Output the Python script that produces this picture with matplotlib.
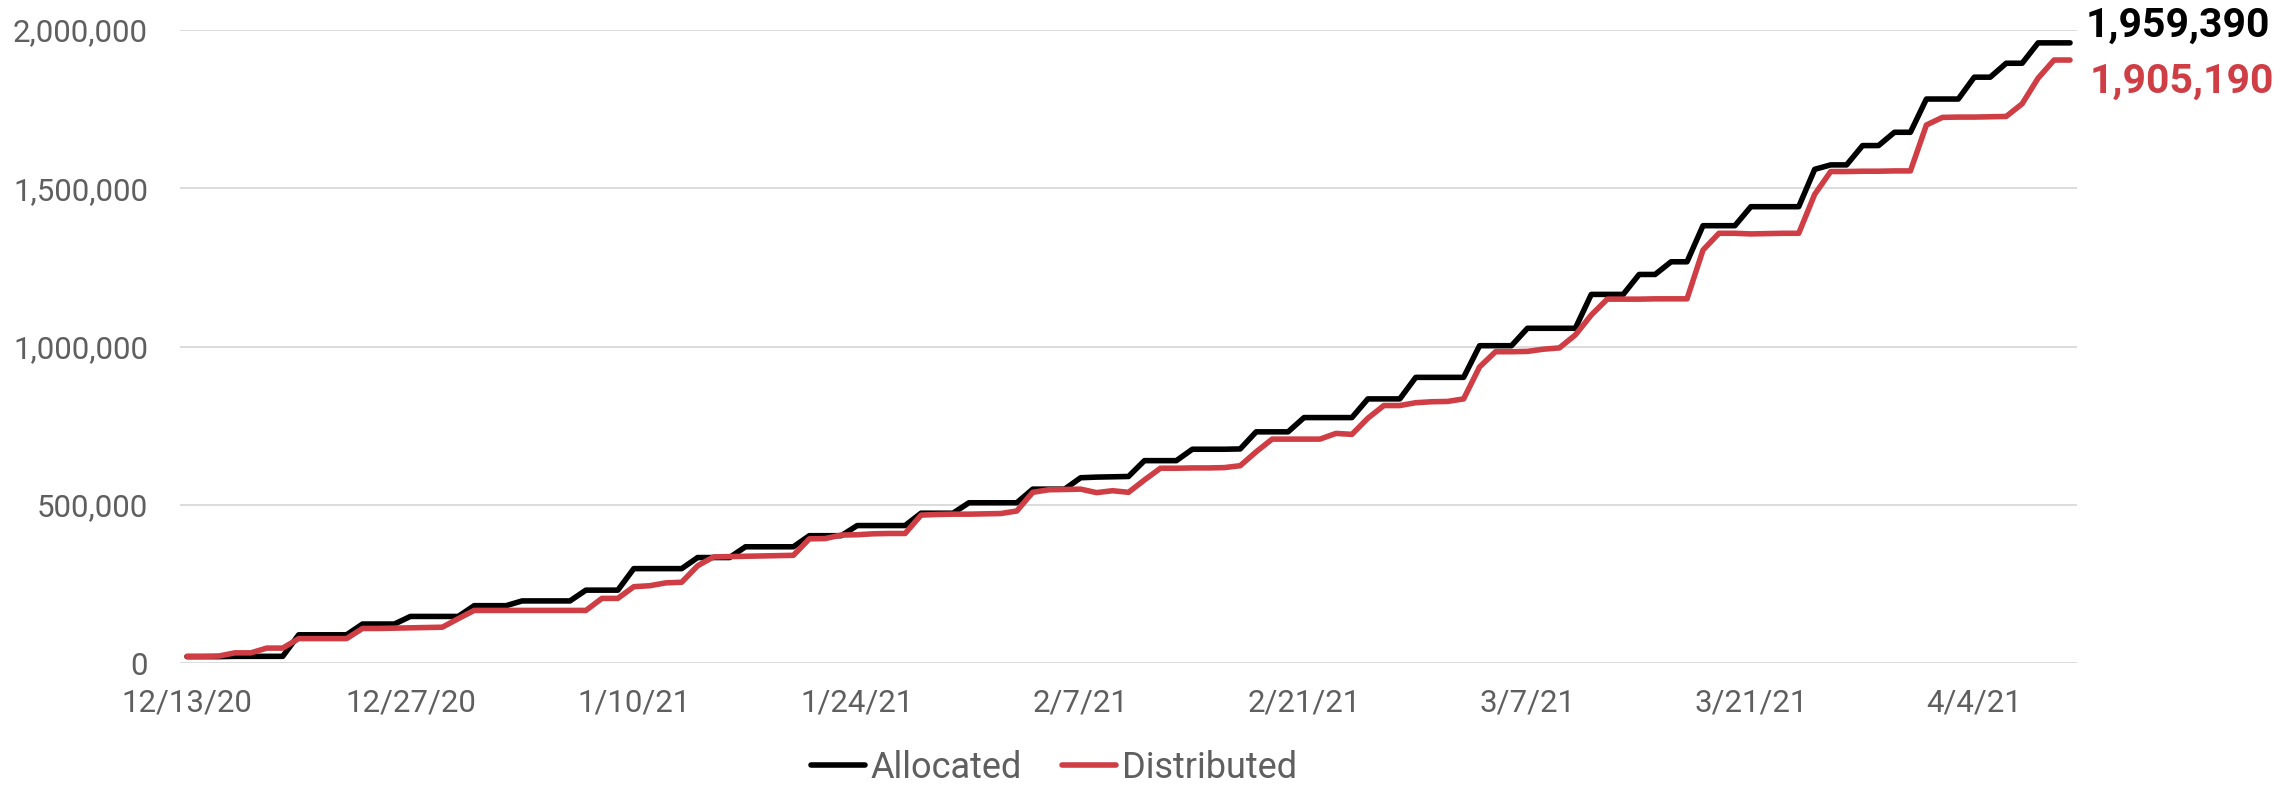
import matplotlib.pyplot as plt
import pandas as pd

# daily series, 12/13/20 -> 4/10/21
dates = pd.date_range("2020-12-13", "2021-04-10", freq="D")

allocated = [
    21000, 21000, 21000, 22000, 22000, 22000, 22000, 90000, 90000, 90000,
    90000, 124000, 124000, 124000, 148000, 148000, 148000, 148000, 182000, 182000,
    182000, 197000, 197000, 197000, 197000, 231000, 231000, 231000, 299000, 299000,
    299000, 299000, 334000, 334000, 334000, 368000, 368000, 368000, 368000, 403000,
    403000, 403000, 435000, 435000, 435000, 435000, 474000, 474000, 474000, 507000,
    507000, 507000, 507000, 550000, 550000, 550000, 586000, 588000, 589000, 590000,
    640000, 640000, 640000, 676000, 676000, 676000, 677000, 731000, 731000, 731000,
    776000, 776000, 776000, 776000, 835000, 835000, 835000, 903000, 903000, 903000,
    903000, 1003000, 1003000, 1003000, 1058000, 1058000, 1058000, 1058000, 1165000, 1165000,
    1165000, 1228000, 1228000, 1268000, 1268000, 1382000, 1382000, 1382000, 1442000, 1442000,
    1442000, 1442000, 1560000, 1574000, 1574000, 1635000, 1635000, 1677000, 1677000, 1782000,
    1782000, 1782000, 1851000, 1851000, 1895000, 1895000, 1959390, 1959390, 1959390,
]

distributed = [
    22000, 22000, 23000, 33000, 33000, 48000, 48000, 78000, 78000, 78000,
    78000, 110000, 110000, 111000, 112000, 113000, 114000, 141000, 167000, 167000,
    167000, 167000, 167000, 167000, 167000, 167000, 205000, 205000, 242000, 245000,
    254000, 256000, 308000, 336000, 337000, 338000, 339000, 340000, 341000, 393000,
    394000, 405000, 406000, 409000, 410000, 410000, 468000, 470000, 471000, 471000,
    472000, 473000, 481000, 540000, 548000, 549000, 550000, 539000, 545000, 540000,
    579000, 616000, 616000, 617000, 617000, 618000, 624000, 668000, 708000, 708000,
    708000, 708000, 726000, 723000, 774000, 814000, 814000, 823000, 826000, 827000,
    835000, 936000, 984000, 984000, 985000, 992000, 996000, 1037000, 1100000, 1150000,
    1150000, 1150000, 1151000, 1151000, 1151000, 1305000, 1358000, 1358000, 1356000, 1357000,
    1358000, 1358000, 1481000, 1553000, 1553000, 1554000, 1554000, 1555000, 1555000, 1700000,
    1724000, 1725000, 1725000, 1726000, 1727000, 1767000, 1848000, 1905190, 1905190,
]

tick_dates = ["2020-12-13", "2020-12-27", "2021-01-10", "2021-01-24", "2021-02-07",
              "2021-02-21", "2021-03-07", "2021-03-21", "2021-04-04"]
tick_labels = ["12/13/20", "12/27/20", "1/10/21", "1/24/21", "2/7/21",
               "2/21/21", "3/7/21", "3/21/21", "4/4/21"]
y_ticks = [0, 500000, 1000000, 1500000, 2000000]

black = "#000000"
red = "#cf3e45"
grey = "#5f5f5f"

plt.rcParams["font.family"] = ["Roboto", "DejaVu Sans"]

W, H = 2296, 786
fig = plt.figure(figsize=(W / 100, H / 100), dpi=100)
ax = fig.add_axes([180 / W, 1 - 663.3 / H, 1897 / W, (663.3 - 30) / H])

ax.plot(dates, allocated, color=black, lw=4, label="Allocated",
        solid_capstyle="round", solid_joinstyle="round", zorder=3)
ax.plot(dates, distributed, color=red, lw=4, label="Distributed",
        solid_capstyle="round", solid_joinstyle="round", zorder=4)

pad = pd.Timedelta(hours=10.5)
ax.set_xlim(dates[0] - pad, dates[-1] + pad)
ax.set_ylim(0, 2000000)

ax.set_xticks(pd.to_datetime(tick_dates))
ax.set_xticklabels(tick_labels)
ax.set_yticks(y_ticks)
ax.set_yticklabels([f"{v:,}" for v in y_ticks])
ax.tick_params(axis="both", length=0, labelsize=22.5, labelcolor=grey)
ax.tick_params(axis="y", pad=23)
ax.tick_params(axis="x", pad=18)

ax.yaxis.grid(True, color="#d9d9d9", lw=1.3)
ax.set_axisbelow(True)
for s in ax.spines.values():
    s.set_visible(False)

# end labels
ax.annotate(f"{allocated[-1]:,}", xy=(dates[-1], allocated[-1]), xytext=(11, 12),
            textcoords="offset points", ha="left", va="center",
            fontsize=29.5, fontweight="bold", color=black, annotation_clip=False)
ax.annotate(f"{distributed[-1]:,}", xy=(dates[-1], distributed[-1]), xytext=(14, -16),
            textcoords="offset points", ha="left", va="center",
            fontsize=29.5, fontweight="bold", color=red, annotation_clip=False)

leg = fig.legend(loc="center", bbox_to_anchor=(1054 / W, 1 - 767.5 / H), ncol=2,
                 frameon=False, fontsize=26, handlelength=1.5, handletextpad=0.15,
                 columnspacing=1.1, borderpad=0)
for t in leg.get_texts():
    t.set_color(grey)
for l in leg.get_lines():
    l.set_linewidth(4)
    l.set_solid_capstyle("round")

fig.savefig("out.png", dpi=100)
